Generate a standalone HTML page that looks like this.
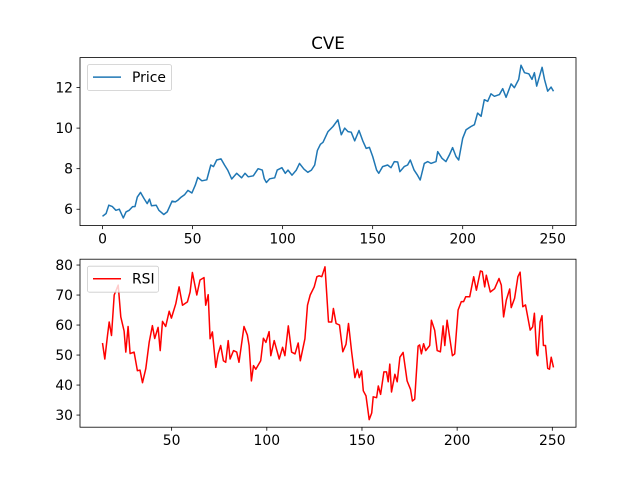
<!DOCTYPE html>
<html><head><meta charset="utf-8"><style>
body{margin:0;background:#fff}
svg text{font-family:"DejaVu Sans","Liberation Sans",sans-serif;fill:#000}
</style></head><body>
<svg id="fig" width="640" height="480" viewBox="0 0 640 480" xmlns="http://www.w3.org/2000/svg">
<rect width="640" height="480" fill="#fff"/>
<text x="328" y="49" font-size="16.7" text-anchor="middle">CVE</text>
<g id="top"></g>
<g id="bot"></g>
</svg>
<script>
const priceDays=[0,2,3.5,5.5,7.4,9.3,11.5,13,14.8,16.7,18,19.3,21.1,23,24.8,26.1,27.2,29.8,31.3,34,35.9,38.6,40.4,41.9,43.7,45.6,47.4,49.6,51.5,52.9,55.2,57.9,60.1,61.6,63.4,65.8,67.7,69.5,71.7,74.5,77.2,79.1,80.9,83.7,86.4,88.7,89.8,91,92.8,95.6,97,99.6,101.5,103,105.2,107.6,109.4,111.8,114,116,117.8,119.3,121,122.4,125.2,128,130.7,132.6,134.5,136.3,138.1,140,142.4,144.5,146.4,148.2,150,152.2,153.4,155.5,158.3,160.2,162,163.9,165.1,167.5,169.4,170.9,173,174.9,176.4,178.7,180.6,182.4,185.2,186.1,188.5,190.7,192.6,194.4,196.3,197.8,200,201.9,204.6,206.5,208.3,210.2,212,213.9,215.7,217.6,220.4,222.2,224.1,226.9,228.7,231.1,232.4,234.3,236.7,238.5,239.8,241.1,244.1,245.4,247.2,249.1,250.4];
const priceValues=[5.65,5.79,6.2,6.13,5.95,6.0,5.57,5.87,5.95,6.13,6.13,6.6,6.83,6.53,6.28,6.5,6.17,6.2,5.95,5.74,5.87,6.4,6.36,6.45,6.6,6.72,6.93,6.8,7.19,7.57,7.4,7.45,8.18,8.1,8.43,8.48,8.18,7.93,7.49,7.77,7.55,7.77,7.6,7.65,8.0,7.93,7.5,7.32,7.5,7.55,7.93,8.05,7.77,7.93,7.68,7.93,8.26,7.98,7.82,7.93,8.18,8.9,9.2,9.3,9.83,10.08,10.41,9.67,10.0,9.83,9.8,9.37,9.88,9.37,9.0,9.05,8.6,7.93,7.77,8.1,8.18,8.05,8.35,8.33,7.85,8.1,8.18,8.43,7.93,7.68,7.44,8.26,8.35,8.26,8.35,8.84,8.51,8.35,8.68,9.04,8.6,8.43,9.5,9.92,10.08,10.17,10.74,10.58,11.4,11.32,11.69,11.57,11.65,11.95,11.52,12.18,11.99,12.4,13.1,12.73,12.68,12.4,12.73,12.07,13.0,12.4,11.82,12.02,11.82];
const priceXTicks=[0,50,100,150,200,250];
const priceYTicks=[6,8,10,12];
const rsiDays=[13.7,14.9,16.3,17.2,18.4,19.8,21.9,23.3,25,25.9,27.1,28.2,30.3,32,33.4,34.7,36.4,38.2,39.9,41.1,42.9,44,45.2,46.9,48.7,49.9,52.2,53.9,55.7,58.3,59.7,60.9,63.2,64.9,67,67.9,69.2,70.2,71.4,73.2,74.4,75.8,77.2,78.4,79.7,80.7,82.5,84.2,85.4,88,89.8,90.7,91.9,93,94.2,96.8,98.2,99.5,101.2,102.1,103.9,105.3,106.5,108.3,109.5,111.3,113,114.8,116.5,117.6,120,121.4,122.8,124.9,126.3,127.5,128.9,130.6,132.4,134.1,135,136.4,138.2,139.9,141.6,142.9,144.6,146.3,147.6,148.6,149.8,150.7,152.1,153.8,155.1,155.9,157.7,158.6,159.8,161.5,162.9,163.8,164.6,165.5,167.3,168.5,169.9,171.6,173.7,175.5,176.5,177.7,179.5,180.3,181.2,182.4,183.5,185.6,186.5,188.2,189.5,191.2,192.6,193.5,194.7,197.5,198.7,200.5,202.2,203.4,204.5,206.6,208.7,210.1,212.2,213.2,214.5,215.3,217.4,219.7,222,223.2,224.4,225.8,227.6,228.4,230.2,231.9,233.1,234.5,235.9,238.4,239.7,240.6,241.8,242.4,243.6,244.6,245.3,246.4,247.6,248.5,249.4,250.6];
const rsiValues=[54,48.7,56.5,61,56.5,70,73.3,62.7,58,51,59.5,50.5,51,44.8,45,40.8,45.5,54.3,59.8,55.5,59.2,51.5,61.2,59.5,64.6,62.3,67.1,72.7,66.6,67.7,71,77.5,70,75,75.8,66.6,70.1,55.4,57.7,45.9,50.4,53.2,48.1,47.6,54.8,48.7,51.5,51,47.6,59.5,56.6,53.2,41.4,46.5,45.3,48.1,55.6,54.2,57.8,49.8,54.8,51.5,48.7,52.6,49.8,59.7,51,50.4,54,48.1,55.4,66.6,70,72.7,76.1,76.4,76.1,79.4,61,61,65.5,60.5,60,51.1,53.6,60.5,50.9,42.5,45.3,42.5,44.7,38.1,36.4,28.5,30.7,36.1,35.8,39.7,36.9,44.4,44.4,41.1,47,37.7,43.6,41.1,49.3,50.9,41.4,38.6,34.7,35.3,53,53.4,50.4,53.8,51.5,53.2,61.6,58.2,51.5,51.1,59.7,53.2,61.6,49.8,50.4,65,67.8,67.8,69.4,69.4,76.1,71.6,78,77.8,72.7,76.6,71,72.1,75.5,73.3,62.7,68.3,72,65.8,68.9,76.1,77.6,66.1,66.7,58.3,59.4,63.9,50.4,49.8,61,63.1,53.2,53.2,45.6,45.3,49.3,45.9];
const rsiXTicks=[50,100,150,200,250];
const rsiYTicks=[30,40,50,60,70,80];
const NS="http://www.w3.org/2000/svg";
function mk(p,t,a){const e=document.createElementNS(NS,t);for(const k in a)e.setAttribute(k,a[k]);p.appendChild(e);return e;}
function panel(g,xs,ys,xt,yt,color,label,top,nm){
  const L=80,R=576,T=top,B=top+168;
  const x0=Math.min(...xs),x1=Math.max(...xs),y0=Math.min(...ys),y1=Math.max(...ys);
  const xm=(x1-x0)*0.05,ym=(y1-y0)*0.05;
  const sx=v=>L+(v-(x0-xm))/((x1-x0)+2*xm)*(R-L);
  const sy=v=>B-(v-(y0-ym))/((y1-y0)+2*ym)*(B-T);
  xt.forEach(t=>{
    const tk=mk(g,'line',{x1:sx(t),x2:sx(t),y1:B,y2:B+3.5,stroke:'#000','stroke-width':0.8});
    
    
    const tl=mk(g,'text',{x:sx(t),y:B+18,'font-size':13.9,'text-anchor':'middle'});tl.textContent=t;
    
    
  });
  yt.forEach(t=>{
    const tk=mk(g,'line',{x1:L-3.5,x2:L,y1:sy(t),y2:sy(t),stroke:'#000','stroke-width':0.8});
    
    
    const tl=mk(g,'text',{x:L-7,y:sy(t)+5,'font-size':13.9,'text-anchor':'end'});tl.textContent=t;
    
    
  });
  const d=xs.map((v,i)=>(i?'L':'M')+sx(v).toFixed(1)+' '+sy(ys[i]).toFixed(1)).join(' ');
  const ln=mk(g,'path',{d:d,fill:'none',stroke:color,'stroke-width':1.5,'stroke-linejoin':'round'});
  
  
  const fr=mk(g,'rect',{x:L,y:T,width:R-L,height:B-T,fill:'none',stroke:'#000','stroke-width':0.8});
  
  
  const lg=mk(g,'g',{});
  
  
  const w=label==='Price'?84:71;
  mk(lg,'rect',{x:87.5,y:T+7,width:w,height:26,rx:2,fill:'#fff','fill-opacity':0.8,stroke:'#ccc','stroke-width':0.8});
  mk(lg,'line',{x1:93,x2:121,y1:T+19.5,y2:T+19.5,stroke:color,'stroke-width':1.5});
  const lt=mk(lg,'text',{x:132,y:T+24.5,'font-size':13.9});lt.textContent=label;
}
panel(document.getElementById('top'),priceDays,priceValues,priceXTicks,priceYTicks,'#1f77b4','Price',57.6,'price');
panel(document.getElementById('bot'),rsiDays,rsiValues,rsiXTicks,rsiYTicks,'#ff0000','RSI',259.2,'rsi');
</script>
</body></html>
